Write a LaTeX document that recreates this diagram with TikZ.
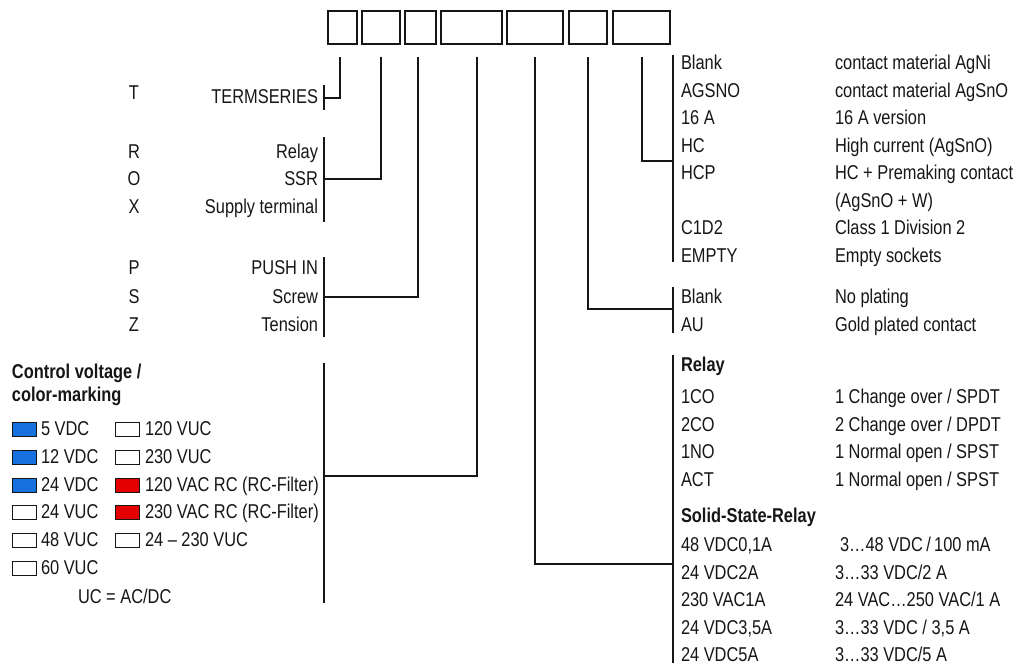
\documentclass[tikz,border=0pt]{standalone}
\usepackage{fontspec}
\setmainfont{Liberation Sans}[FakeStretch=0.82]
\definecolor{ink}{RGB}{22,22,22}
\definecolor{swblue}{RGB}{22,112,222}
\definecolor{swred}{RGB}{228,0,0}
\begin{document}
\begin{tikzpicture}[x=1pt,y=-1pt,
  every node/.style={inner sep=0pt, outer sep=0pt, text=ink, font=\fontsize{20}{22}\selectfont},
  codebox/.style={draw=ink, line width=1.8pt, minimum height=33pt},
  conn/.style={draw=ink, line width=1.2pt},
  lab/.style={anchor=base west},
  rlab/.style={anchor=base east},
  cen/.style={anchor=base},
  hd/.style={anchor=base west, font=\fontsize{20}{22}\bfseries\selectfont},
  swatch/.style={draw=ink, line width=0.9pt, minimum width=24pt, minimum height=14pt, anchor=west},
]
\useasboundingbox (0,0) rectangle (1020,666);
% code boxes
\node[codebox, minimum width=29pt] (b1) at (342.5,27.5) {};
\node[codebox, minimum width=38pt] (b2) at (381,27.5) {};
\node[codebox, minimum width=31pt] (b3) at (420.5,27.5) {};
\node[codebox, minimum width=61pt] (b4) at (471.5,27.5) {};
\node[codebox, minimum width=56pt] (b5) at (535,27.5) {};
\node[codebox, minimum width=38pt] (b6) at (588,27.5) {};
\node[codebox, minimum width=57pt] (b7) at (641.5,27.5) {};
% connector start points
\coordinate (s1) at (340,57);
\coordinate (s2) at (381,57);
\coordinate (s3) at (418,57);
\coordinate (s4) at (477,57);
\coordinate (s5) at (535,57);
\coordinate (s6) at (588,57);
\coordinate (s7) at (642,57);
% bracket ends
\coordinate (k1a) at (324,85); \coordinate (k1b) at (324,110); \coordinate (k1) at (324,98);
\coordinate (k2a) at (324,137); \coordinate (k2b) at (324,222); \coordinate (k2) at (324,179);
\coordinate (k3a) at (324,257); \coordinate (k3b) at (324,337); \coordinate (k3) at (324,297);
\coordinate (k4a) at (324,363); \coordinate (k4b) at (324,603); \coordinate (k4) at (324,476);
\coordinate (k5a) at (673,355); \coordinate (k5b) at (673,663); \coordinate (k5) at (673,564);
\coordinate (k6a) at (673,287); \coordinate (k6b) at (673,333); \coordinate (k6) at (673,309);
\coordinate (k7a) at (673,55); \coordinate (k7b) at (673,262); \coordinate (k7) at (673,161);
\foreach \i in {1,...,7}{
  \draw[conn] (k\i a) -- (k\i b);
  \draw[conn] (s\i) |- (k\i);
}
% left group 1
\node[cen] (lt) at (134,100) {T};
\node[rlab] (tse) at (318,103.5) {TERMSERIES};
% left group 2
\node[cen] (lr) at (134,158.5) {R};
\node[cen] (lo) at (134,185.5) {O};
\node[cen] (lx) at (134,213.5) {X};
\node[rlab] (rel) at (318,158.5) {Relay};
\node[rlab] (ssr) at (318,185.5) {SSR};
\node[rlab] (sup) at (318,213.5) {Supply terminal};
% left group 3
\node[cen] (lp) at (134,274.5) {P};
\node[cen] (ls) at (134,303.5) {S};
\node[cen] (lz) at (134,331.5) {Z};
\node[rlab] (push) at (318,274.5) {PUSH IN};
\node[rlab] (scr) at (318,303.5) {Screw};
\node[rlab] (ten) at (318,331.5) {Tension};
% control voltage
\node[hd] (cv1) at (12,378.5) {Control voltage /};
\node[hd] (cv2) at (12,401.5) {color-marking};
\node[swatch, fill=swblue] (w1) at (12,429) {};
\node[swatch, fill=swblue] (w2) at (12,457) {};
\node[swatch, fill=swblue] (w3) at (12,485) {};
\node[swatch, fill=white] (w4) at (12,512) {};
\node[swatch, fill=white] (w5) at (12,540) {};
\node[swatch, fill=white] (w6) at (12,568) {};
\node[lab] (v1) at (41,435.5) {5 VDC};
\node[lab] (v2) at (41,463.5) {12 VDC};
\node[lab] (v3) at (41,491.5) {24 VDC};
\node[lab] (v4) at (41,518.5) {24 VUC};
\node[lab] (v5) at (41,546.5) {48 VUC};
\node[lab] (v6) at (41,574.5) {60 VUC};
\node[swatch, fill=white] (x1) at (115,429) {};
\node[swatch, fill=white] (x2) at (115,457) {};
\node[swatch, fill=swred] (x3) at (115,485) {};
\node[swatch, fill=swred] (x4) at (115,512) {};
\node[swatch, fill=white] (x5) at (115,540) {};
\node[lab] (u1) at (145,435.5) {120 VUC};
\node[lab] (u2) at (145,463.5) {230 VUC};
\node[lab] (u3) at (145,491.5) {120 VAC RC (RC-Filter)};
\node[lab] (u4) at (145,518.5) {230 VAC RC (RC-Filter)};
\node[lab] (u5) at (145,546.5) {24 -- 230 VUC};
\node[lab] (uc) at (78,603.5) {UC = AC/DC};
% right group 1
\node[lab] (m1) at (681,69.5) {Blank};
\node[lab] (m2) at (681,97.5) {AGSNO};
\node[lab] (m3) at (681,124.5) {16 A};
\node[lab] (m4) at (681,152.5) {HC};
\node[lab] (m5) at (681,179.5) {HCP};
\node[lab] (m6) at (681,234.5) {C1D2};
\node[lab] (m7) at (681,262.5) {EMPTY};
\node[lab] (d1) at (835,69.5) {contact material AgNi};
\node[lab] (d2) at (835,97.5) {contact material AgSnO};
\node[lab] (d3) at (835,124.5) {16 A version};
\node[lab] (d4) at (835,152.5) {High current (AgSnO)};
\node[lab] (d5) at (835,179.5) {HC + Premaking contact};
\node[lab] (d5b) at (835,207.5) {(AgSnO + W)};
\node[lab] (d6) at (835,234.5) {Class 1 Division 2};
\node[lab] (d7) at (835,262.5) {Empty sockets};
% right group 2
\node[lab] (p1) at (681,303.5) {Blank};
\node[lab] (p2) at (681,331.5) {AU};
\node[lab] (q1) at (835,303.5) {No plating};
\node[lab] (q2) at (835,331.5) {Gold plated contact};
% right group 3
\node[hd] (rh) at (681,371.5) {Relay};
\node[lab] (r1) at (681,403.5) {1CO};
\node[lab] (r2) at (681,431.5) {2CO};
\node[lab] (r3) at (681,458.5) {1NO};
\node[lab] (r4) at (681,486.5) {ACT};
\node[lab] (e1) at (835,403.5) {1 Change over / SPDT};
\node[lab] (e2) at (835,431.5) {2 Change over / DPDT};
\node[lab] (e3) at (835,458.5) {1 Normal open / SPST};
\node[lab] (e4) at (835,486.5) {1 Normal open / SPST};
\node[hd] (sh) at (681,522.5) {Solid-State-Relay};
\node[lab] (o1) at (681,551.5) {48 VDC0,1A};
\node[lab] (o2) at (681,579.5) {24 VDC2A};
\node[lab] (o3) at (681,606.5) {230 VAC1A};
\node[lab] (o4) at (681,634.5) {24 VDC3,5A};
\node[lab] (o5) at (681,661.5) {24 VDC5A};
\node[lab] (f1) at (840,551.5) {3…48 VDC\,/\,100 mA};
\node[lab] (f2) at (835,579.5) {3…33 VDC/2 A};
\node[lab] (f3) at (835,606.5) {24 VAC…250 VAC/1 A};
\node[lab] (f4) at (835,634.5) {3…33 VDC / 3,5 A};
\node[lab] (f5) at (835,661.5) {3…33 VDC/5 A};
\end{tikzpicture}
\end{document}
